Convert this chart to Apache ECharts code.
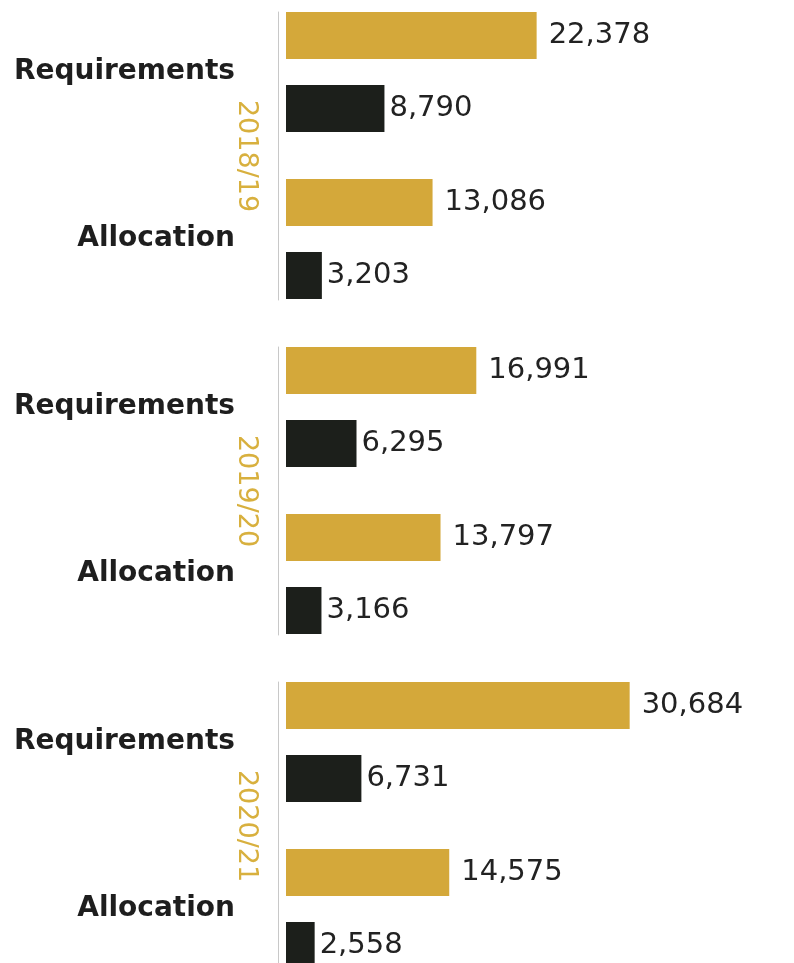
<!DOCTYPE html>
<html>
<head>
<meta charset="utf-8">
<script src="https://cdn.jsdelivr.net/npm/echarts@6/dist/echarts.min.js"></script>
<style>
  html, body { margin: 0; padding: 0; background: #fff; }
  #chart { width: 794px; height: 963px; }
</style>
</head>
<body>
<div id="chart"></div>
<script>
var years = ['2018/19', '2019/20', '2020/21'];
var rowLabels = ['Requirements', 'Allocation'];
var goldValues = [[22378, 13086], [16991, 13797], [30684, 14575]];
var blackValues = [[8790, 3203], [6295, 3166], [6731, 2558]];

var gold = '#d4a83a';
var dark = '#1c1f1b';
// category ticks sit at grid top and bottom (boundaryGap false)
var barTops = [72, 407, 742];
var lineTops = [12, 347, 682];

var mychart = echarts.init(document.getElementById('chart'));

function fmt(p) {
    return p.value.toLocaleString('en-US');
}

var grid = [], xAxis = [], yAxis = [], series = [];

years.forEach(function (yr, i) {
    // bars
    grid.push({ left: 286, width: 448, top: barTops[i], height: 167, outerBoundsMode: 'none' });
    xAxis.push({ type: 'value', gridIndex: 2 * i, min: 0, max: 40000, show: false });
    yAxis.push({
        type: 'category',
        gridIndex: 2 * i,
        inverse: true,
        boundaryGap: false,
        data: rowLabels,
        axisLine: { show: false },
        axisTick: { show: false },
        axisLabel: {
            margin: 51,
            color: '#1e1e1e',
            fontFamily: 'DejaVu Sans',
            fontWeight: 'bold',
            fontSize: 28,
            padding: [0, 0, 10, 0]
        }
    });
    // thin axis line with year name
    grid.push({ left: 278, width: 10, top: lineTops[i], height: 288, outerBoundsMode: 'none' });
    xAxis.push({ type: 'value', gridIndex: 2 * i + 1, min: 0, max: 1, show: false });
    yAxis.push({
        type: 'value',
        gridIndex: 2 * i + 1,
        min: 0,
        max: 1,
        name: yr,
        nameLocation: 'middle',
        nameRotate: -90,
        nameGap: 18,
        nameTextStyle: {
            color: '#d8b03e',
            fontFamily: 'DejaVu Sans',
            fontSize: 27
        },
        axisLine: { show: true, onZero: false, lineStyle: { color: '#c8c8c8', width: 1 } },
        axisTick: { show: false },
        axisLabel: { show: false },
        splitLine: { show: false }
    });

    series.push({
        type: 'bar',
        xAxisIndex: 2 * i,
        yAxisIndex: 2 * i,
        data: goldValues[i],
        barWidth: 47,
        barGap: '55%',
        itemStyle: { color: gold },
        label: {
            show: true,
            position: 'right',
            distance: 12,
            formatter: fmt,
            color: '#222',
            fontFamily: 'DejaVu Sans',
            fontSize: 29
        }
    });
    series.push({
        type: 'bar',
        xAxisIndex: 2 * i,
        yAxisIndex: 2 * i,
        data: blackValues[i],
        barWidth: 47,
        barGap: '55%',
        itemStyle: { color: dark },
        label: {
            show: true,
            position: 'right',
            distance: 5,
            formatter: fmt,
            color: '#222',
            fontFamily: 'DejaVu Sans',
            fontSize: 29
        }
    });
});

var option = {
    animation: false,
    backgroundColor: '#ffffff',
    grid: grid,
    xAxis: xAxis,
    yAxis: yAxis,
    series: series
};
mychart.setOption(option);
</script>
</body>
</html>
